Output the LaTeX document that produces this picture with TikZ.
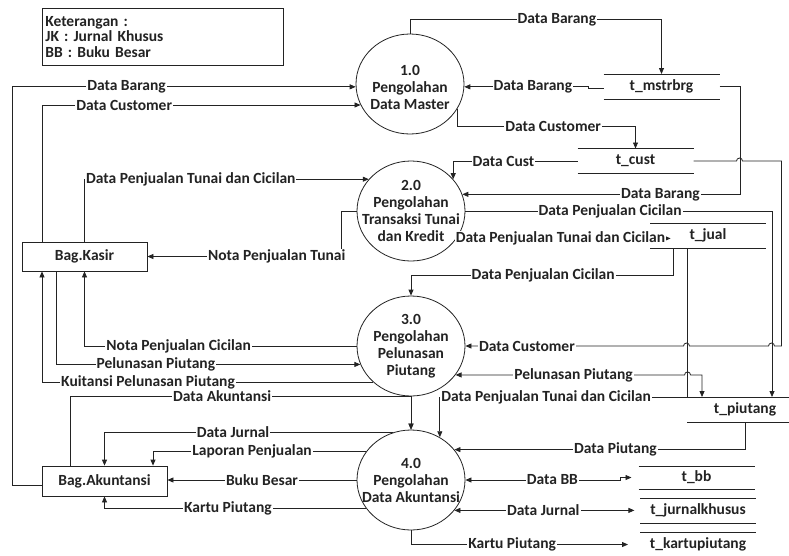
\documentclass[tikz,border=0pt]{standalone}
\usepackage{fontspec}
\setmainfont{Carlito}
\usetikzlibrary{shapes,arrows.meta,calc}
\definecolor{lineclr}{RGB}{35,35,35}

\begin{document}
\begin{tikzpicture}[x=1pt,y=-1pt,line width=.8pt,color=lineclr,
    every node/.style={font=\bfseries\fontsize{15.5}{17}\selectfont},
    >={Triangle[length=6pt,width=5pt]},
    proc/.style={ellipse,draw,minimum width=108pt,minimum height=100pt,inner sep=0pt},
    ent/.style={rectangle,draw,minimum width=125pt,minimum height=29pt,inner sep=0pt},
    store/.style={minimum width=116pt,minimum height=25pt,inner sep=0pt,outer sep=0pt,
      append after command={(\tikzlastnode.north west) edge[-] (\tikzlastnode.north east)
        (\tikzlastnode.south west) edge[-] (\tikzlastnode.south east)}},
    lbl/.style={fill=white,inner sep=1pt}]
  \useasboundingbox (0,0) rectangle (789,555);

  \node[draw,anchor=north west,minimum width=241pt,minimum height=57pt,text width=235pt,
        inner sep=3pt,align=left,font=\bfseries\fontsize{15.5}{15.5}\selectfont] (ket) at (42,8)
    {Keterangan :\\JK : Jurnal Khusus\\BB : Buku Besar};

  % proses
  \node[proc,label={[align=center,yshift=-3pt]center:{1.0\\Pengolahan\\Data Master}}] (p1) at (410,84) {};
  \node[proc,label={[align=center]center:{2.0\\Pengolahan\\Transaksi Tunai\\dan Kredit}}] (p2) at (411,211) {};
  \node[proc,label={[align=center]center:{3.0\\Pengolahan\\Pelunasan\\Piutang}}] (p3) at (411,346) {};
  \node[proc,label={[align=center]center:{4.0\\Pengolahan\\Data Akuntansi}}] (p4) at (411,480) {};

  % entitas
  \node[ent] (kasir) at (84.5,256.5) {Bag.Kasir};
  \node[ent,minimum height=30pt] (akun) at (104.5,481) {Bag.Akuntansi};

  % data store
  \node[store] (mstr) at (661.5,86.5) {t\_mstrbrg};
  \node[store] (cust) at (635.5,161) {t\_cust};
  \node[store] (jual) at (708,235.5) {t\_jual};
  \node[store] (piutang) at (745,409.5) {t\_piutang};
  \node[store,minimum height=23pt] (bb) at (696.5,477.5) {t\_bb};
  \node[store] (jk) at (698,510.5) {t\_jurnalkhusus};
  \node[store] (kp) at (698,544.5) {t\_kartupiutang};

  % 1.0
  \draw[->] (p1.north) -- ++(0,-14) -| (mstr.north) node[lbl,pos=.292] {Data Barang};
  \draw[->] ([yshift=-2pt]mstr.west) -- ++(-15,0) |- (p1.-3) node[lbl,pos=.724] {Data Barang};
  \draw[->] (p1.-28) -- ++(0,17) -| (cust.north) node[lbl,pos=.269] {Data Customer};
  \draw[->] ([yshift=-4pt]akun.west) -- ++(-29,0) |- (p1.183) node[lbl,pos=.666] {Data Barang};
  \draw[->] ([xshift=-42.5pt]kasir.north) |- (p1.203) node[lbl,pos=.629] {Data Customer};

  % 2.0
  \draw[->] (cust.west) -| (p2.37) node[lbl,pos=.298] {Data Cust};
  \draw[->] (mstr.east) -- ++(21,0) |- (p2.18) node[lbl,pos=.644] {Data Barang};
  \draw[->] (p2.east) -| ([xshift=27pt]piutang.north) node[lbl,pos=.236] {Data Penjualan Cicilan};
  \draw[->] (p2.-31) -- ++(214,0) node[lbl,pos=.485] {Data Penjualan Tunai dan Cicilan};
  \draw[->] (kasir.north) |- (p2.143) node[lbl,pos=.687] {Data Penjualan Tunai dan Cicilan};
  \draw[->] (p2.west) -- ++(-15,0) |- (kasir.east) node[lbl,pos=.667] {Nota Penjualan Tunai};

  % 3.0
  \draw[->] ([xshift=-35pt]jual.south) -- ++(0,27) -| (p3.north) node[lbl,pos=.248] {Data Penjualan Cicilan};
  \draw[->] (cust.east) -- ++(43,0) arc[start angle=180,end angle=360,radius=3] -- ++(39,0)
     -- ++(0,185) -- ++(-7,0) arc[start angle=0,end angle=-180,radius=3] -- ++(-79,0)
     arc[start angle=0,end angle=-180,radius=3] -- (p3.east) node[lbl,pos=.718] {Data Customer};
  \draw[<->] (p3.-33) -- ++(229,0) node[lbl,pos=.515] {Pelunasan Piutang}
     arc[start angle=180,end angle=360,radius=3] -| ([xshift=-43pt]piutang.north);
  \draw[->] (p3.west) -| (kasir.south) node[lbl,pos=.327] {Nota Penjualan Cicilan};
  \draw[->] ([xshift=-28.5pt]kasir.south) |- (p3.200) node[lbl,pos=.664] {Pelunasan Piutang};
  \draw[->] (p3.224) -| ([xshift=-42.5pt]kasir.south) node[lbl,pos=.34] {Kuitansi Pelunasan Piutang};

  % 4.0
  \draw[->] (p3.south) -- (p4.north);
  \draw[->] ([xshift=-34.5pt]akun.north) |- (p3.south) node[lbl,pos=.723] {Data Akuntansi} -- (p4.north);
  \draw[->] ([xshift=-21pt]jual.south) -- (piutang.north west) -| (p4.56)
     node[lbl,pos=.285] {Data Penjualan Tunai dan Cicilan};
  \draw[->] (piutang.south) |- (p4.35) node[lbl,pos=.723] {Data Piutang};
  \draw[<->] (p4.east) -- ++(155,0) node[lbl,pos=.561] {Data BB} |- ([xshift=-7pt]bb.west);
  \draw[<->] (p4.-35) -- ++(180,0) node[lbl,pos=.494] {Data Jurnal};
  \draw[->] (p4.south) |- ([xshift=-12pt]kp.west) node[lbl,pos=.733] {Kartu Piutang};
  \draw[->] (p4.111) -| (akun.north) node[lbl,pos=.277] {Data Jurnal};
  \draw[->] (p4.147) -| ([xshift=48.5pt]akun.north) node[lbl,pos=.268] {Laporan Penjualan};
  \draw[->] (p4.west) -- (p4.west -| akun.east) node[lbl,pos=.5] {Buku Besar};
  \draw[->] (p4.212) -| (akun.south) node[lbl,pos=.264] {Kartu Piutang};
\end{tikzpicture}
\end{document}
